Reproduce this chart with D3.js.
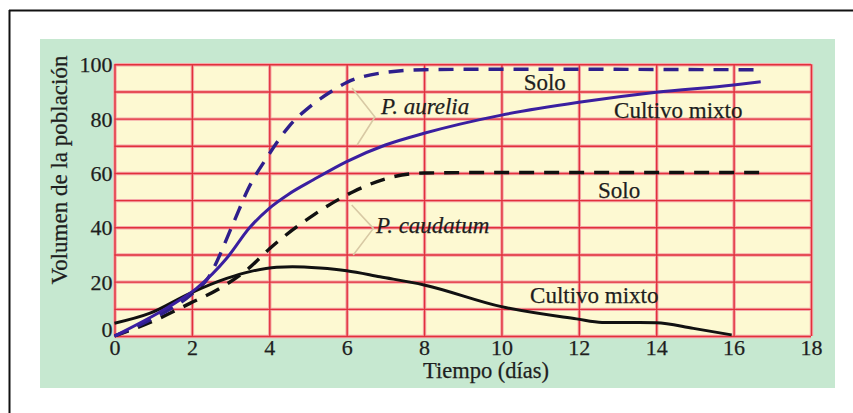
<!DOCTYPE html>
<html>
<head>
<meta charset="utf-8">
<script src="https://cdn.jsdelivr.net/npm/d3@7"></script>
<style>
  html, body { margin: 0; padding: 0; background: #ffffff; }
  svg { display: block; }
  text { font-family: "Liberation Serif", "Times New Roman", serif; fill: #1e1e1e; stroke: #1e1e1e; stroke-width: 0.25px; }
</style>
</head>
<body>
<svg id="chart" width="853" height="413"></svg>
<script>
// ---------- data ----------
const xTicks = [0, 2, 4, 6, 8, 10, 12, 14, 16, 18];
const yTicks = [0, 20, 40, 60, 80, 100];
const yGrid = [0, 10, 20, 30, 40, 50, 60, 70, 80, 90, 100];

const xTitle = "Tiempo (días)";
const yTitle = "Volumen de la población";

// P. aurelia
const aureliaSolo = [[0,0],[1,6.5],[2,15.5],[2.4,21],[3.07,41.5],[3.45,54],[4,67],[4.5,77],[5.1,85],[5.6,90],[6,93.3],[6.9,96.8],[8,98],[10,98.2],[12,98.2],[14,98.1],[16.7,98]];
const aureliaMixto = [[0,0],[1.35,10.3],[2.12,17.5],[2.9,28.6],[3.5,40],[4,47],[4.5,52.2],[5.14,57.5],[6,64.2],[7,70.3],[8,74.6],[10,81.3],[12,86],[14,89.7],[16,92.4],[16.7,93.6]];
// P. caudatum
const caudatumSolo = [[0,0],[1,5.5],[1.95,12],[2.73,17.6],[3.42,24.3],[4.02,32.3],[5.14,44.5],[6.17,53.1],[7.2,58.6],[8,60],[10,60.2],[12,60.2],[14,60.2],[16.7,60.2]];
const caudatumMixto = [[0,4.7],[0.92,8.4],[1.95,15.7],[2.9,21.2],[3.5,23.7],[4.19,25.3],[4.6,25.5],[5.31,25],[6,24],[6.86,21.8],[8,18.8],[10,10.8],[11.94,6.3],[12.6,5],[14,4.9],[14.96,2.8],[15.95,0.4]];

// annotations: [text, x, y, italic, anchor]
const labels = [
  ["Solo", 11.12, 90.5, false, "middle"],
  ["Cultivo mixto", 14.57, 80.3, false, "middle"],
  ["Solo", 13.04, 50.7, false, "middle"],
  ["Cultivo mixto", 12.4, 12.3, false, "middle"],
  ["P. aurelia", 6.89, 81.7, true, "start"],
  ["P. caudatum", 6.76, 37.8, true, "start"]
];
const brackets = [
  [[6.14, 91.3], [6.73, 80.6], [6.27, 70.3]],
  [[6.13, 48.2], [6.69, 39.6], [6.17, 29.8]]
];

// ---------- layout ----------
const svg = d3.select("#chart");
const plot = { left: 114.5, right: 811, top: 64.3, bottom: 336 };

const x = d3.scaleLinear().domain([0, 18]).range([plot.left, plot.right]);
const y = d3.scaleLinear().domain([0, 100]).range([plot.bottom, plot.top]);

// outer frame (top and left edges visible)
svg.append("line").attr("x1", 9).attr("y1", 10.5).attr("x2", 853).attr("y2", 10.5)
  .attr("stroke", "#111").attr("stroke-width", 2);
svg.append("line").attr("x1", 9.5).attr("y1", 10).attr("x2", 9.5).attr("y2", 413)
  .attr("stroke", "#111").attr("stroke-width", 2);

// green panel
svg.append("rect").attr("x", 40).attr("y", 39).attr("width", 795).attr("height", 349)
  .attr("fill", "#c6e8d0");

// plot background
svg.append("rect").attr("x", plot.left).attr("y", plot.top)
  .attr("width", plot.right - plot.left).attr("height", plot.bottom - plot.top)
  .attr("fill", "#fdf9d2");

// gridlines via axes
function gridStyle(g, w, col) {
  g.select(".domain").remove();
  g.selectAll(".tick text").remove();
  g.selectAll(".tick line").attr("stroke", col).attr("stroke-width", w);
}
[[3.4, "#f4a9a9"], [1.4, "#e2303c"]].forEach(([w, col]) => {
  svg.append("g").attr("transform", `translate(0,${plot.bottom})`)
    .call(d3.axisBottom(x).tickValues(xTicks).tickSize(-(plot.bottom - plot.top)).tickSizeOuter(0))
    .call(g => gridStyle(g, w, col));
  svg.append("g").attr("transform", `translate(${plot.left},0)`)
    .call(d3.axisLeft(y).tickValues(yGrid).tickSize(-(plot.right - plot.left)).tickSizeOuter(0))
    .call(g => gridStyle(g, w, col));
});

// tick labels via axes
svg.append("g").attr("transform", `translate(0,${plot.bottom})`)
  .call(d3.axisBottom(x).tickValues(xTicks).tickSize(0).tickPadding(0).tickFormat(d3.format("d")))
  .call(g => {
    g.select(".domain").remove();
    g.selectAll(".tick text").attr("font-size", 22).attr("font-family", "Liberation Serif")
      .attr("fill", "#1e1e1e").attr("dy", null).attr("y", 19);
  });
svg.append("g").attr("transform", `translate(${plot.left - 2},0)`)
  .call(d3.axisLeft(y).tickValues(yTicks).tickSize(0).tickPadding(0).tickFormat(d3.format("d")))
  .call(g => {
    g.select(".domain").remove();
    g.selectAll(".tick text").attr("font-size", 22).attr("font-family", "Liberation Serif")
      .attr("fill", "#1e1e1e").attr("x", 0).attr("dy", null)
      .attr("y", d => d === 0 ? 0 : 7.5);
  });

// axis titles
svg.append("text").attr("x", 486).attr("y", 378).attr("text-anchor", "middle")
  .attr("font-size", 22.5).text(xTitle);
svg.append("text").attr("transform", "translate(67,170) rotate(-90)")
  .attr("text-anchor", "middle").attr("font-size", 23).text(yTitle);

// curves
const line = d3.line().x(d => x(d[0])).y(d => y(d[1])).curve(d3.curveMonotoneX);
const series = [
  [caudatumSolo, "#111111", 3.4, "15,10"],
  [aureliaSolo, "#2e1f8c", 3.4, "15,10"],
  [caudatumMixto, "#111111", 3, null],
  [aureliaMixto, "#3a1fa0", 3, null]
];
series.forEach(([data, col, w, dash]) => {
  svg.append("path").datum(data).attr("d", line)
    .attr("fill", "none").attr("stroke", col).attr("stroke-width", w)
    .attr("stroke-dasharray", dash).attr("stroke-linecap", "butt");
});

// brackets
const bline = d3.line().x(d => x(d[0])).y(d => y(d[1]));
brackets.forEach(b => {
  svg.append("path").datum(b).attr("d", bline).attr("fill", "none")
    .attr("stroke", "#d8c9a4").attr("stroke-width", 1.6);
});

// annotation labels
labels.forEach(([t, lx, ly, it, anchor]) => {
  svg.append("text").attr("x", x(lx)).attr("y", y(ly))
    .attr("text-anchor", anchor).attr("font-size", 23)
    .attr("font-style", it ? "italic" : "normal").text(t);
});
</script>
</body>
</html>
